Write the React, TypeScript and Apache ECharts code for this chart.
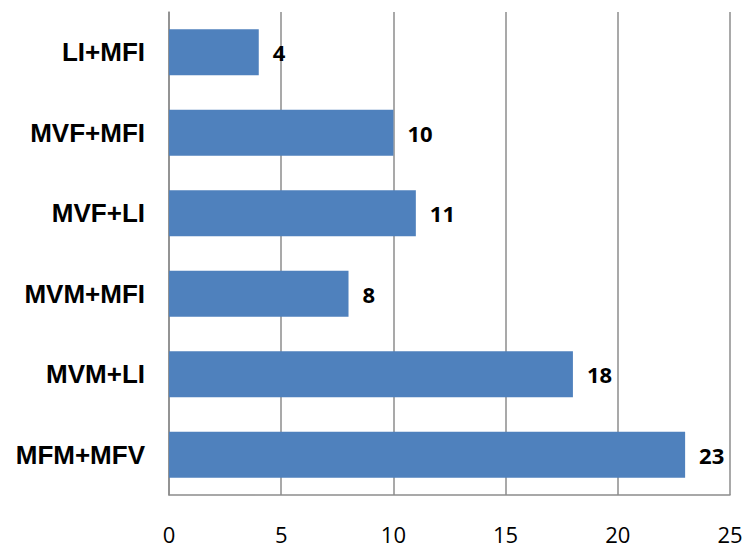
import React, { useEffect, useRef } from "react";
import * as echarts from "echarts";

const categories = ["LI+MFI", "MVF+MFI", "MVF+LI", "MVM+MFI", "MVM+LI", "MFM+MFV"];
const values = [4, 10, 11, 8, 18, 23];
const xTicks = [0, 5, 10, 15, 20, 25];

export default function App() {
  const ref = useRef<HTMLDivElement>(null);
  useEffect(() => {
    if (!ref.current) return;
    const chart = echarts.init(ref.current, undefined, { renderer: "svg" });
    chart.setOption({
      animation: false,
      grid: { left: 169, right: 16, top: 12, bottom: 55, containLabel: false },
      xAxis: {
        type: "value",
        min: xTicks[0],
        max: xTicks[xTicks.length - 1],
        interval: 5,
        axisLine: { show: true, lineStyle: { color: "#8c8c8c", width: 1.5 } },
        axisTick: { show: false },
        splitLine: { show: true, lineStyle: { color: "#8c8c8c", width: 1.5 } },
        axisLabel: {
          fontSize: 22,
          lineHeight: 22,
          color: "#000",
          margin: 28,
          fontFamily: "Open Sans",
        },
      },
      yAxis: {
        type: "category",
        data: categories,
        inverse: true,
        axisLine: { show: true, lineStyle: { color: "#8c8c8c", width: 1.5 } },
        axisTick: { show: false },
        axisLabel: {
          fontSize: 26,
          fontWeight: "bold",
          color: "#000",
          margin: 24,
          fontFamily: "Liberation Sans",
        },
      },
      series: [
        {
          type: "bar",
          data: values,
          barCategoryGap: "43%",
          itemStyle: { color: "#4F81BD" },
          label: {
            show: true,
            position: "right",
            distance: 14,
            fontSize: 22,
            fontWeight: "bold",
            color: "#000",
            fontFamily: "Open Sans",
          },
        },
      ],
    });
    return () => chart.dispose();
  }, []);
  return (
    <div
      ref={ref}
      style={{ position: "absolute", left: 0, top: 0, width: 746, height: 550 }}
    />
  );
}
